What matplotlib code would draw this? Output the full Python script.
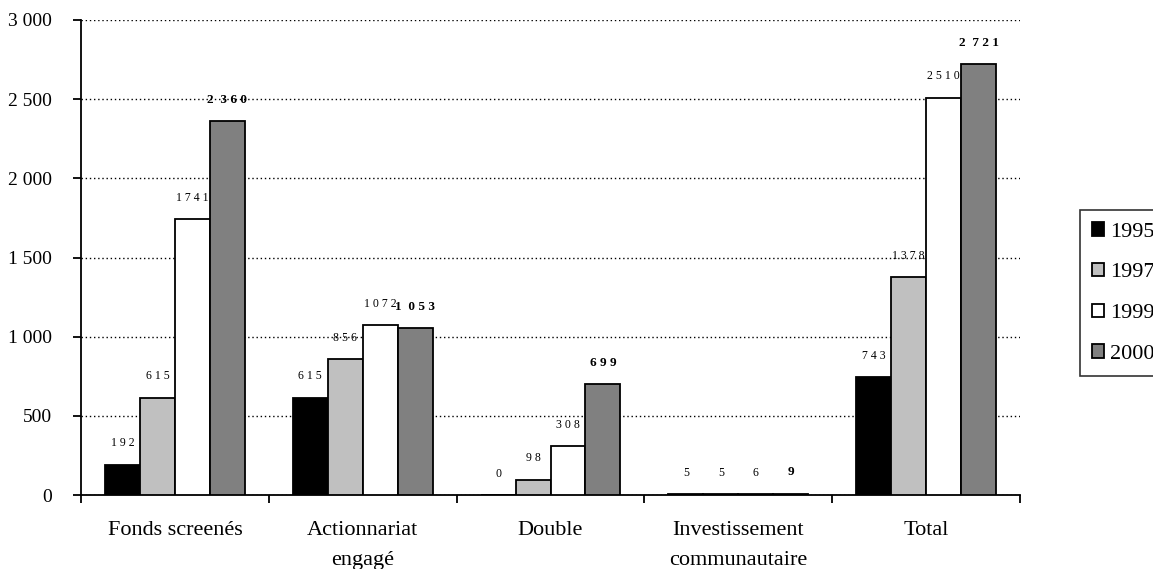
import numpy as np
import matplotlib
matplotlib.use("Agg")
import matplotlib.pyplot as plt
from matplotlib.ticker import FuncFormatter, FixedLocator

# --- DATA ---
categories = ["Fonds screenés", "Actionnariat\nengagé", "Double",
              "Investissement\ncommunautaire", "Total"]
years = ["1995", "1997", "1999", "2000"]
v1995 = [192, 615, 0, 5, 743]
v1997 = [615, 856, 98, 5, 1378]
v1999 = [1741, 1072, 308, 6, 2510]
v2000 = [2360, 1053, 699, 9, 2721]

colors = ["#000000", "#c0c0c0", "#ffffff", "#808080"]

plt.rcParams["font.family"] = ["Liberation Serif", "DejaVu Serif"]


def spaced(v, bold=False):
    # Excel-like spaced digits, e.g. "1 7 4 1" / "2  3 6 0"
    groups = f"{v:,}".split(",")
    sep = "  " if bold else " "
    return sep.join(" ".join(g) for g in groups)


fig = plt.figure(figsize=(11.53, 5.69), dpi=100)
ax = fig.add_axes([0.0703, 0.130, 0.8144, 0.8349])

x = np.arange(len(categories))
w = 0.186
series = [v1995, v1997, v1999, v2000]
for i, (vals, col, yr) in enumerate(zip(series, colors, years)):
    pos = x + (i - 1.5) * w
    ax.bar(pos, vals, width=w, color=col, edgecolor="black", linewidth=1.3,
           label=yr, zorder=3)
    bold = yr == "2000"
    for p, v in zip(pos, vals):
        ax.annotate(spaced(v, bold), (p, v), xytext=(0, 11),
                    textcoords="offset points", ha="center", va="bottom",
                    fontsize=9.5 if bold else 8.5,
                    fontweight="bold" if bold else "normal")

ax.set_xlim(-0.5, len(categories) - 0.5)
ax.set_ylim(0, 3000)
ax.set_yticks(np.arange(0, 3001, 500))
ax.yaxis.set_major_formatter(FuncFormatter(lambda v, _: f"{int(v):,}".replace(",", " ")))
ax.yaxis.grid(True, linestyle=(0, (1, 2)), color="black", linewidth=1)
ax.set_axisbelow(True)

ax.set_xticks(x)
ax.set_xticklabels(categories, fontsize=16, linespacing=1.75)
ax.tick_params(axis="x", which="major", length=0, pad=19)
ax.xaxis.set_minor_locator(FixedLocator(np.arange(-0.5, len(categories), 1.0)))
ax.tick_params(axis="x", which="minor", length=6, width=1.3, direction="out")
ax.tick_params(axis="y", labelsize=14, length=6, width=1.3, direction="out", pad=15)

for s in ["top", "right"]:
    ax.spines[s].set_visible(False)
for s in ["left", "bottom"]:
    ax.spines[s].set_linewidth(1.3)

leg = fig.legend(loc="upper left", bbox_to_anchor=(1080 / 1153, 1 - 210 / 569),
                 fontsize=16, frameon=True, fancybox=False, edgecolor="black",
                 handlelength=0.55, handleheight=0.55, handletextpad=0.25,
                 labelspacing=0.95, borderpad=0.55, borderaxespad=0)
leg.get_frame().set_linewidth(1.2)

fig.savefig("out.png", dpi=100)
